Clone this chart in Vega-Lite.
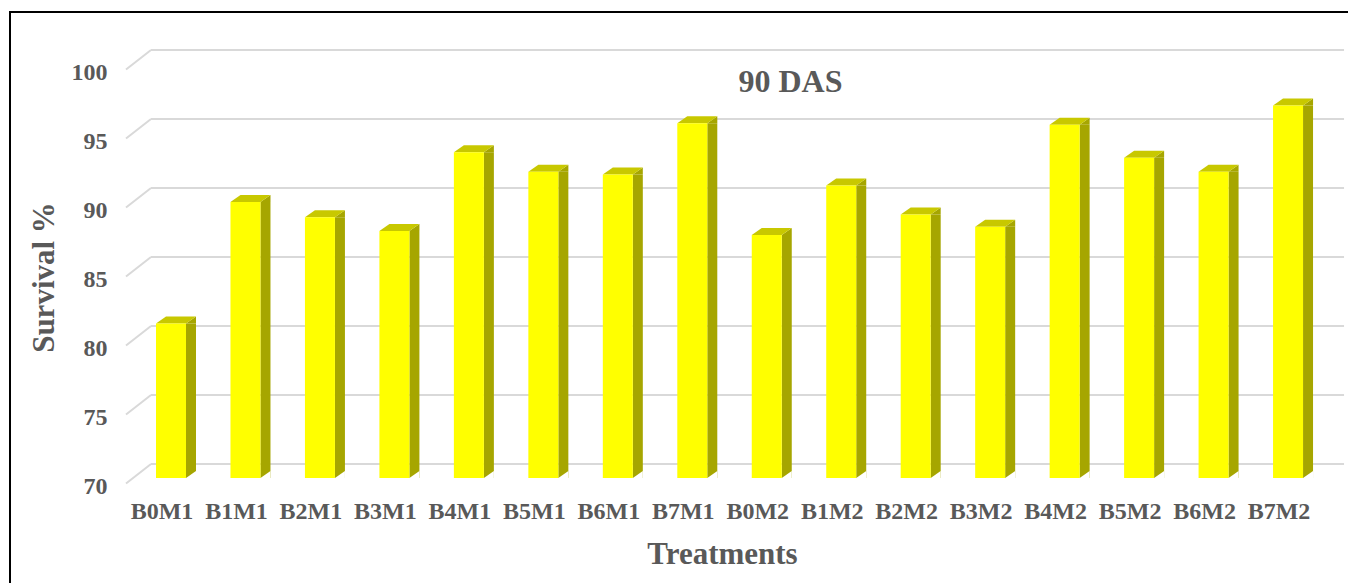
{
  "$schema": "https://vega.github.io/schema/vega-lite/v6.json",
  "width": 1340,
  "height": 575,
  "padding": {"left": 10, "top": 12, "right": 0, "bottom": 0},
  "background": "white",
  "config": {
    "view": {"stroke": "#000000", "strokeWidth": 2},
    "axis": {
      "labelFont": "Liberation Serif",
      "titleFont": "Liberation Serif",
      "labelFontWeight": "bold",
      "titleFontWeight": "bold",
      "labelColor": "#595959",
      "titleColor": "#595959",
      "grid": false,
      "domain": false,
      "ticks": false,
      "tickSize": 0
    }
  },
  "data": {
    "values": [
      {"Treatment": "B0M1", "value": 81.2},
      {"Treatment": "B1M1", "value": 90.0},
      {"Treatment": "B2M1", "value": 88.9},
      {"Treatment": "B3M1", "value": 87.9},
      {"Treatment": "B4M1", "value": 93.6},
      {"Treatment": "B5M1", "value": 92.2},
      {"Treatment": "B6M1", "value": 92.0},
      {"Treatment": "B7M1", "value": 95.7},
      {"Treatment": "B0M2", "value": 87.6},
      {"Treatment": "B1M2", "value": 91.2},
      {"Treatment": "B2M2", "value": 89.1},
      {"Treatment": "B3M2", "value": 88.2},
      {"Treatment": "B4M2", "value": 95.6},
      {"Treatment": "B5M2", "value": 93.2},
      {"Treatment": "B6M2", "value": 92.2},
      {"Treatment": "B7M2", "value": 97.0}
    ]
  },
  "layer": [
    {
      "data": {"values": [{"v": 70}, {"v": 75}, {"v": 80}, {"v": 85}, {"v": 90}, {"v": 95}, {"v": 100}]},
      "mark": {"type": "rule", "stroke": "#D9D9D9", "strokeWidth": 2, "xOffset": -20, "x2Offset": 56},
      "encoding": {
        "x": {
          "datum": "B0M1",
          "type": "nominal",
          "scale": {
            "domain": ["B0M1", "B1M1", "B2M1", "B3M1", "B4M1", "B5M1", "B6M1", "B7M1", "B0M2", "B1M2", "B2M2", "B3M2", "B4M2", "B5M2", "B6M2", "B7M2"],
            "paddingInner": 0,
            "paddingOuter": 0.997,
            "align": 0.8335
          },
          "axis": {
            "title": "Treatments",
            "offset": -123,
            "labelFontSize": 24,
            "labelBaseline": "alphabetic",
            "labelPadding": 54,
            "labelOffset": -9,
            "labelAngle": 0,
            "titleFontSize": 31,
            "titleX": 712,
            "titleY": 99,
            "titleAlign": "center",
            "titleBaseline": "alphabetic"
          }
        },
        "x2": {"datum": "B7M2"},
        "y": {
          "field": "v",
          "type": "quantitative",
          "scale": {"domain": [61.087, 102.754], "nice": false, "zero": false},
          "axis": {
            "title": "Survival %",
            "values": [70, 75, 80, 85, 90, 95, 100],
            "offset": -97,
            "labelFontSize": 24,
            "labelPadding": 0,
            "labelOffset": 22,
            "labelBaseline": "middle",
            "titleFontSize": 31,
            "titleX": -54,
            "titleY": 265,
            "titleAlign": "center",
            "titleBaseline": "alphabetic"
          }
        },
        "y2": {"field": "v"}
      }
    },
    {
      "data": {"values": [{"v": 70}, {"v": 75}, {"v": 80}, {"v": 85}, {"v": 90}, {"v": 95}, {"v": 100}]},
      "mark": {"type": "rule", "stroke": "#D9D9D9", "strokeWidth": 2, "xOffset": -45, "x2Offset": -20, "yOffset": 19.5},
      "encoding": {
        "x": {"datum": "B0M1", "type": "nominal"},
        "x2": {"datum": "B0M1"},
        "y": {"field": "v", "type": "quantitative", "title": "Survival %"},
        "y2": {"field": "v"}
      }
    },
    {
      "mark": {"type": "bar", "color": "#A6A600", "size": 10, "xOffset": 20, "yOffset": 14, "y2Offset": 14},
      "encoding": {
        "x": {"field": "Treatment", "type": "nominal", "title": "Treatments"},
        "y": {"field": "value", "type": "quantitative", "title": "Survival %"},
        "y2": {"datum": 70}
      }
    },
    {
      "mark": {"type": "point", "shape": "M 1.5 0 L 2.5 0 L 2.5 -0.7 Z", "size": 400, "filled": true, "fill": "#FFFFFF", "strokeWidth": 0, "opacity": 1, "yOffset": 14},
      "encoding": {
        "x": {"field": "Treatment", "type": "nominal", "title": "Treatments"},
        "y": {"datum": 70, "type": "quantitative", "title": "Survival %"}
      }
    },
    {
      "mark": {"type": "point", "shape": "M 1.5 0 L 2.5 -0.7 L 2.5 0 Z", "size": 400, "filled": true, "fill": "#A6A600", "strokeWidth": 0, "opacity": 1, "yOffset": 14},
      "encoding": {
        "x": {"field": "Treatment", "type": "nominal", "title": "Treatments"},
        "y": {"field": "value", "type": "quantitative", "title": "Survival %"}
      }
    },
    {
      "mark": {"type": "point", "shape": "M -1.5 0 L 1.5 0 L 2.5 -0.7 L -0.5 -0.7 Z", "size": 400, "filled": true, "fill": "#C8C800", "strokeWidth": 0, "opacity": 1, "yOffset": 14},
      "encoding": {
        "x": {"field": "Treatment", "type": "nominal", "title": "Treatments"},
        "y": {"field": "value", "type": "quantitative", "title": "Survival %"}
      }
    },
    {
      "mark": {"type": "bar", "color": "#FFFF00", "size": 30, "yOffset": 14, "y2Offset": 14},
      "encoding": {
        "x": {"field": "Treatment", "type": "nominal", "title": "Treatments"},
        "y": {"field": "value", "type": "quantitative", "title": "Survival %"},
        "y2": {"datum": 70}
      }
    },
    {
      "data": {"values": [{"label": "90 DAS"}]},
      "mark": {"type": "text", "font": "Liberation Serif", "fontWeight": "bold", "fontSize": 32, "color": "#595959", "baseline": "alphabetic", "align": "center", "dx": 23.7, "dy": 42.3},
      "encoding": {
        "x": {"datum": "B0M2", "type": "nominal"},
        "y": {"datum": 100, "type": "quantitative"},
        "text": {"field": "label"}
      }
    }
  ]
}
